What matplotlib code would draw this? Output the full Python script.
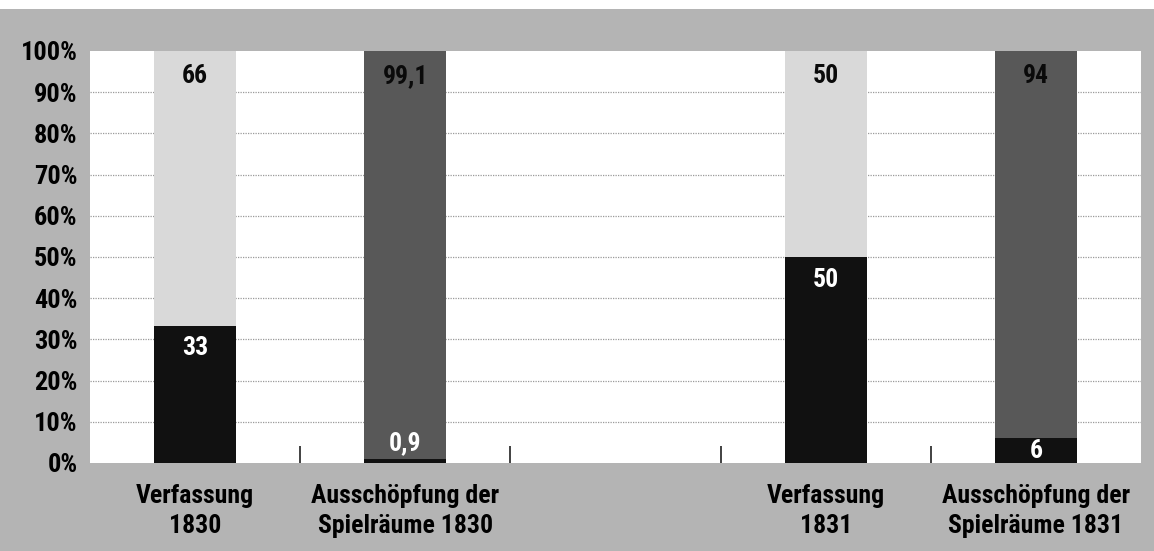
import matplotlib
matplotlib.use("Agg")
import matplotlib.pyplot as plt
from matplotlib import font_manager
from matplotlib.patches import Rectangle
import numpy as np

categories = ["Verfassung\n1830", "Ausschöpfung der\nSpielräume 1830", "",
              "Verfassung\n1831", "Ausschöpfung der\nSpielräume 1831"]
lower_values = [33, 0.9, None, 50, 6]
upper_values = [66, 99.1, None, 50, 94]
upper_colors = ["#d9d9d9", "#585858", None, "#d9d9d9", "#585858"]
lower_color = "#111111"
y_ticks = [0, 10, 20, 30, 40, 50, 60, 70, 80, 90, 100]

names = {f.name for f in font_manager.fontManager.ttflist}
family = "DejaVu Sans"
for cand in ["Roboto Condensed", "IBM Plex Sans Condensed", "Barlow Semi Condensed",
             "Archivo Narrow", "Liberation Sans Narrow"]:
    if cand in names:
        family = cand
        break
plt.rcParams["font.family"] = [family, "DejaVu Sans"]

def fmt(v):
    return str(int(v)) if float(v).is_integer() else str(v).replace(".", ",")

fig = plt.figure(figsize=(11.54, 5.51), dpi=100)
fig.patch.set_facecolor("#b4b4b4")
fig.patches.append(Rectangle((0, 1 - 9 / 551), 1, 9 / 551, transform=fig.transFigure,
                             facecolor="white", edgecolor="none", zorder=0))
ax = fig.add_axes([90 / 1154, 1 - 463 / 551, 1051 / 1154, 412 / 551])
ax.set_facecolor("white")

x = np.arange(len(categories))
width = 0.39
for i, (lo, up) in enumerate(zip(lower_values, upper_values)):
    if lo is None:
        continue
    total = lo + up
    lp = lo / total * 100
    upp = up / total * 100
    ax.bar(x[i], lp, width=width, color=lower_color, zorder=3)
    ax.bar(x[i], upp, bottom=lp, width=width, color=upper_colors[i], zorder=3)
    ax.text(x[i], 94, fmt(up), ha="center", va="center", fontsize=18.5,
            fontweight="heavy", color="#0a0a0a", zorder=4)
    if lp >= 15:
        ly = lp - 5.5
    elif lp >= 4:
        ly = lp / 2
    else:
        ly = lp + 3.8
    ax.text(x[i], ly, fmt(lo), ha="center", va="center", fontsize=18.5,
            fontweight="bold", color="white", zorder=4)

ax.set_xlim(-0.5, len(categories) - 0.5)
ax.set_ylim(0, 100)
ax.set_yticks(y_ticks)
ax.set_yticklabels([f"{t}%" for t in y_ticks], fontsize=19, fontweight="heavy")
ax.set_xticks(x)
ax.set_xticklabels(categories, fontsize=18.5, fontweight="semibold", linespacing=1.3)
ax.set_xticks(np.arange(0.5, len(categories) - 1, 1), minor=True)
ax.tick_params(axis="x", which="major", length=0, pad=15)
ax.tick_params(axis="x", which="minor", direction="in", length=12, width=1.3, color="#333333")
ax.tick_params(axis="y", length=0, pad=9)
for s in ax.spines.values():
    s.set_visible(False)
for t in y_ticks[1:-1]:
    ax.axhline(t, color="#9a9a9a", linestyle=(0, (1, 1)), linewidth=0.9, zorder=1)

fig.savefig("out.png", dpi=100, facecolor=fig.get_facecolor())
